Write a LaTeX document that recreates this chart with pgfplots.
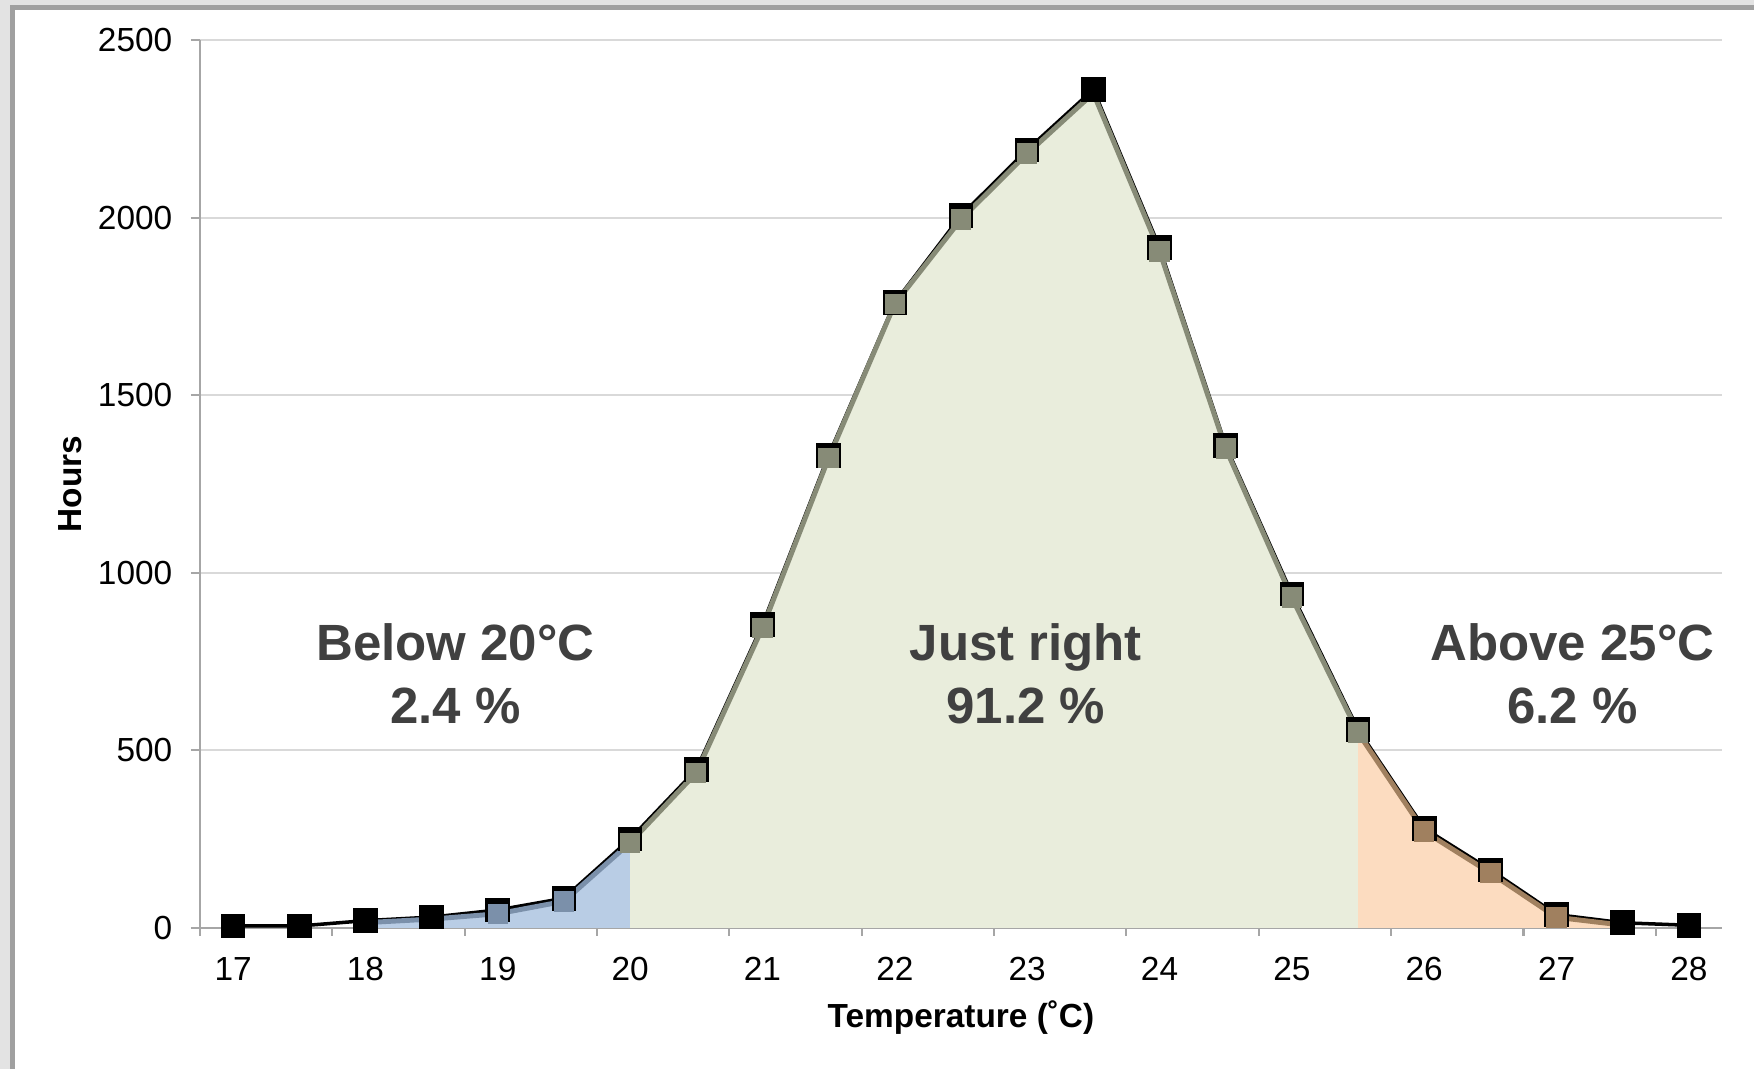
\documentclass[border=0pt]{standalone}
\usepackage{pgfplots}
\pgfplotsset{compat=1.18}
\usepackage{fontspec}
\setmainfont{Liberation Sans}
\definecolor{gridc}{HTML}{D9D9D9}
\definecolor{axc}{HTML}{A6A6A6}
\definecolor{bluel}{HTML}{7B90AA}
\definecolor{bluef}{HTML}{B9CDE5}
\definecolor{greenl}{HTML}{878B77}
\definecolor{greenf}{HTML}{E9EDDC}
\definecolor{orl}{HTML}{A0805F}
\definecolor{orf}{HTML}{FCDCC0}
\definecolor{txt}{HTML}{404040}
\definecolor{frameout}{HTML}{E3E3E3}
\definecolor{framel}{HTML}{A0A0A0}
\begin{document}
\begin{tikzpicture}[x=1cm,y=1cm]
\fill[frameout] (0,0) rectangle (17.54,10.69);
\fill[white] (0.15,0) rectangle (17.54,10.59);
\fill[framel] (0.10,0) rectangle (0.15,10.64);
\fill[framel] (0.10,10.59) rectangle (17.54,10.64);
\begin{axis}[
  at={(2.00cm,1.41cm)}, anchor=south west,
  scale only axis, width=15.22cm, height=8.88cm,
  xmin=16.75, xmax=28.25, ymin=0, ymax=2500,
  clip=false,
  axis x line*=bottom, axis y line*=left,
  axis line style={axc, line width=0.6pt, -},
  xtick={17,...,28}, ytick={0,500,...,2500},
  minor xtick={16.75,17.75,...,27.75},
  major x tick style={draw=none},
  tick align=outside,
  major tick length=0.09cm, minor tick length=0.08cm,
  tick style={axc, line width=0.6pt},
  ymajorgrids, grid style={gridc, line width=0.6pt},
  /pgf/number format/assume math mode=true,
  /pgf/number format/1000 sep={},
  tick label style={font=\fontsize{9.5}{11}\selectfont, black},
  xticklabel style={yshift=-2.2pt},
  yticklabel style={xshift=-1.8pt},
  xlabel={Temperature (˚C)}, ylabel={Hours},
  label style={font=\bfseries\fontsize{9.5}{11}\selectfont, black},
  xlabel style={at={(axis description cs:0.5,-0.101)}, anchor=center},
  ylabel style={at={(axis description cs:-0.0854,0.5)}, anchor=center},
]
% black reference series (drawn underneath, slightly offset)
\addplot[black, line width=1pt, mark=square*, mark size=3pt, mark options={solid, fill=black}, yshift=0.02cm] coordinates {
(17,0) (17.5,0) (18,15) (18.5,25) (19,45) (19.5,78) (20,245) (20.5,440) (21,848) (21.5,1325) (22,1755) (22.5,2000) (23,2185) (23.5,2355) (24,1910) (24.5,1352) (25,935) (25.5,553) (26,275) (26.5,158) (27,32) (27.5,9) (28,2)};
% fills
\addplot[fill=bluef, draw=none] coordinates {
(18,15) (18.5,25) (19,40) (19.5,75) (20,240)} \closedcycle;
\addplot[fill=greenf, draw=none] coordinates {
(20,240) (20.5,437) (21,845) (21.5,1323) (22,1757) (22.5,1995) (23,2180) (23.5,2350) (24,1905) (24.5,1350) (25,930) (25.5,550)} \closedcycle;
\addplot[fill=orf, draw=none] coordinates {
(25.5,550) (26,272) (26.5,155) (27,30) (27.5,8)} \closedcycle;
% coloured edges
\addplot[bluel, line width=1.4pt] coordinates {
(18,15) (18.5,25) (19,40) (19.5,75) (20,240)};
\addplot[greenl, line width=1.4pt] coordinates {
(20,240) (20.5,437) (21,845) (21.5,1323) (22,1757) (22.5,1995) (23,2180) (23.5,2350) (24,1905) (24.5,1350) (25,930) (25.5,550)};
\addplot[orl, line width=1.4pt] coordinates {
(25.5,550) (26,272) (26.5,155) (27,30) (27.5,8)};
% coloured marks
\addplot[only marks, mark=square*, mark size=2.7pt, mark options={draw=bluel, fill=bluel}] coordinates {
(19,40) (19.5,75)};
\addplot[only marks, mark=square*, mark size=2.7pt, mark options={draw=greenl, fill=greenl}] coordinates {
(20,240) (20.5,437) (21,845) (21.5,1323) (22,1757) (22.5,1995) (23,2180) (24,1905) (24.5,1350) (25,930) (25.5,550)};
\addplot[only marks, mark=square*, mark size=2.7pt, mark options={draw=orl, fill=orl}] coordinates {
(26,272) (26.5,155) (27,30)};
% annotations
\node[anchor=base, font=\bfseries\fontsize{14.5}{17}\selectfont, text=txt] at (axis cs:18.68,754) {Below 20°C};
\node[anchor=base, font=\bfseries\fontsize{14.5}{17}\selectfont, text=txt] at (axis cs:18.68,577) {2.4 \%};
\node[anchor=base, font=\bfseries\fontsize{14.5}{17}\selectfont, text=txt] at (axis cs:22.99,754) {Just right};
\node[anchor=base, font=\bfseries\fontsize{14.5}{17}\selectfont, text=txt] at (axis cs:22.99,577) {91.2 \%};
\node[anchor=base, font=\bfseries\fontsize{14.5}{17}\selectfont, text=txt] at (axis cs:27.12,754) {Above 25°C};
\node[anchor=base, font=\bfseries\fontsize{14.5}{17}\selectfont, text=txt] at (axis cs:27.12,577) {6.2 \%};
\end{axis}
\end{tikzpicture}
\end{document}
